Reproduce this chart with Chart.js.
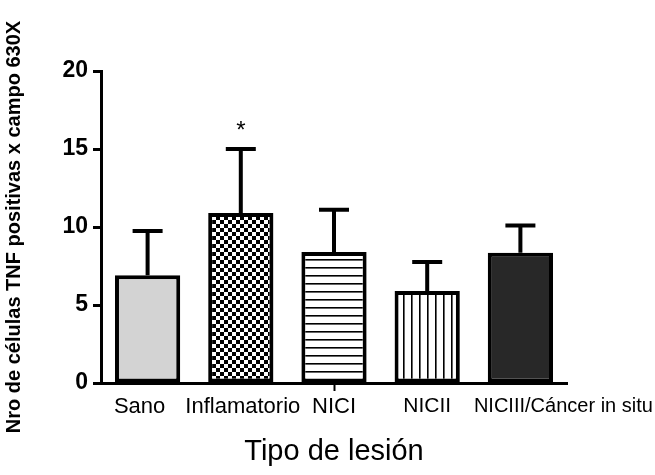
<!DOCTYPE html>
<html>
<head>
<meta charset="utf-8">
<script src="https://cdn.jsdelivr.net/npm/chart.js@4/dist/chart.umd.min.js"></script>
<style>
    html, body { margin: 0; padding: 0; background: #fff; }
    #wrap { width: 655px; height: 475px; }
</style>
</head>
<body>
<div id="wrap"><canvas id="chart"></canvas></div>
<script>
// values
var categories = ["Sano", "Inflamatorio", "NICI", "NICII", "NICIII/Cáncer in situ"];
var means = [6.9, 10.9, 8.4, 5.9, 8.35];
var errors = [2.85, 4.1, 2.7, 1.85, 1.75];
var marks = ["", "*", "", "", ""];
var y_ticks = [0, 5, 10, 15, 20];

var FONT = "'Liberation Sans', Arial, sans-serif";
// the original places a couple of category labels off-centre
var labelShift = [-8, 2, 0, 0, 43];

function makePattern(kind) {
    var c = document.createElement("canvas");
    c.width = 8;
    c.height = 8;
    var g = c.getContext("2d");
    g.fillStyle = "#fff";
    g.fillRect(0, 0, 8, 8);
    g.fillStyle = "#000";
    if (kind == "checker") {
        g.fillRect(0, 0, 4, 4);
        g.fillRect(4, 4, 4, 4);
    } else if (kind == "hlines") {
        g.fillRect(0, 3, 8, 1.6);
    } else if (kind == "vlines") {
        g.fillRect(3, 0, 1.6, 8);
    }
    return g.createPattern(c, "repeat");
}

var fills = ["#d3d3d3", makePattern("checker"), makePattern("hlines"), makePattern("vlines"), "#282828"];

// nudge x labels before the axis draws them
var shiftLabels = {
    id: "shiftLabels",
    beforeDraw: function (chart) {
        var items = chart.scales.x.getLabelItems(chart.chartArea);
        items.forEach(function (item, i) {
            if (!item._shifted) {
                item.options.translation[0] += labelShift[i] || 0;
                item._shifted = true;
            }
        });
    }
};

// error bars + significance marks, drawn on top of the bars
var errorBars = {
    id: "errorBars",
    afterDatasetsDraw: function (chart) {
        var ctx = chart.ctx;
        var meta = chart.getDatasetMeta(0);
        var y = chart.scales.y;
        ctx.save();
        ctx.strokeStyle = "#000";
        ctx.lineWidth = 4;
        ctx.lineCap = "butt";
        meta.data.forEach(function (bar, i) {
            var top = y.getPixelForValue(means[i] + errors[i]);
            var base = y.getPixelForValue(means[i]);
            ctx.beginPath();
            ctx.moveTo(bar.x, base);
            ctx.lineTo(bar.x, top);
            ctx.moveTo(bar.x - 15, top);
            ctx.lineTo(bar.x + 15, top);
            ctx.stroke();
            if (marks[i]) {
                ctx.fillStyle = "#000";
                ctx.font = "24px " + FONT;
                ctx.textAlign = "center";
                ctx.textBaseline = "bottom";
                ctx.fillText(marks[i], bar.x, top - 6);
            }
        });
        ctx.restore();
    }
};

new Chart(document.getElementById("chart"), {
    type: "bar",
    data: {
        labels: categories,
        datasets: [{
            data: means,
            backgroundColor: fills,
            borderColor: "#000",
            borderWidth: 4,
            borderSkipped: false,
            barPercentage: 0.7,
            categoryPercentage: 1.0
        }]
    },
    options: {
        responsive: true,
        maintainAspectRatio: false,
        animation: false,
        layout: { padding: { top: 71, right: 88, left: 2, bottom: 6 } },
        plugins: {
            legend: { display: false },
            tooltip: { enabled: false }
        },
        scales: {
            y: {
                min: 0,
                max: 20,
                afterBuildTicks: function (scale) {
                    scale.ticks = y_ticks.map(function (v) { return { value: v }; });
                },
                afterFit: function (scale) { scale.width = 99; },
                border: { color: "#000", width: 3 },
                grid: { drawOnChartArea: false, drawTicks: true, tickLength: 8, tickWidth: 3, tickColor: "#000" },
                ticks: { color: "#000", padding: 5, font: { family: FONT, size: 23, weight: "bold" } },
                title: {
                    display: true,
                    text: "Nro de células TNF positivas x campo 630X",
                    color: "#000",
                    padding: { top: 0, bottom: 0 },
                    font: { family: FONT, size: 20, weight: "bold" }
                }
            },
            x: {
                afterFit: function (scale) { scale.height = 86; },
                border: { color: "#000", width: 3 },
                grid: {
                    offset: false,
                    drawOnChartArea: false,
                    drawTicks: true,
                    tickLength: 8,
                    tickWidth: 2,
                    tickColor: function (c) { return c.index == 2 ? "#000" : "rgba(0,0,0,0)"; }
                },
                ticks: {
                    color: "#000",
                    padding: 3,
                    maxRotation: 0,
                    autoSkip: false,
                    font: function (c) {
                        var size = 22;
                        if (c.index == 3) size = 21;
                        if (c.index == 4) size = 20;
                        return { family: FONT, size: size };
                    }
                },
                title: {
                    display: true,
                    text: "Tipo de lesión",
                    color: "#000",
                    padding: { top: 0, bottom: 0 },
                    font: { family: FONT, size: 29 }
                }
            }
        }
    },
    plugins: [shiftLabels, errorBars]
});
</script>
</body>
</html>
